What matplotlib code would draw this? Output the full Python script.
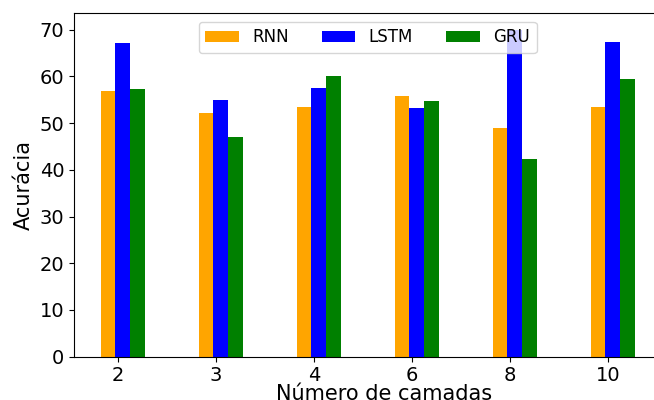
import matplotlib
matplotlib.use("Agg")
import matplotlib.pyplot as plt
import numpy as np

camadas = ["2", "3", "4", "6", "8", "10"]
rnn = [56.9, 52.1, 53.5, 55.9, 48.9, 53.4]
lstm = [67.1, 55.0, 57.5, 53.3, 70.0, 67.4]
gru = [57.4, 47.0, 60.2, 54.8, 42.3, 59.4]

largura = 0.15
x = np.arange(len(camadas))

fig = plt.figure(figsize=(6.54, 4.0), dpi=100)
ax = fig.add_axes([0.1131, 0.1083, 0.8982, 0.8582])

ax.bar(x - 0.10, rnn, width=largura, color="orange", label="RNN")
ax.bar(x + 0.05, lstm, width=largura, color="blue", label="LSTM")
ax.bar(x + 0.20, gru, width=largura, color="green", label="GRU")

ax.set_xticks(x)
ax.set_xticklabels(camadas)
ax.tick_params(axis="both", labelsize=14)
ax.set_xlabel("Número de camadas", fontsize=15)
ax.xaxis.set_label_coords(0.5286, -0.079, transform=ax.transAxes)
ax.xaxis.label.set_va("top")
ax.set_ylabel("Acurácia", fontsize=15)
ax.legend(loc="upper center", ncol=3, fontsize=12)

fig.savefig("out.png", dpi=100)
